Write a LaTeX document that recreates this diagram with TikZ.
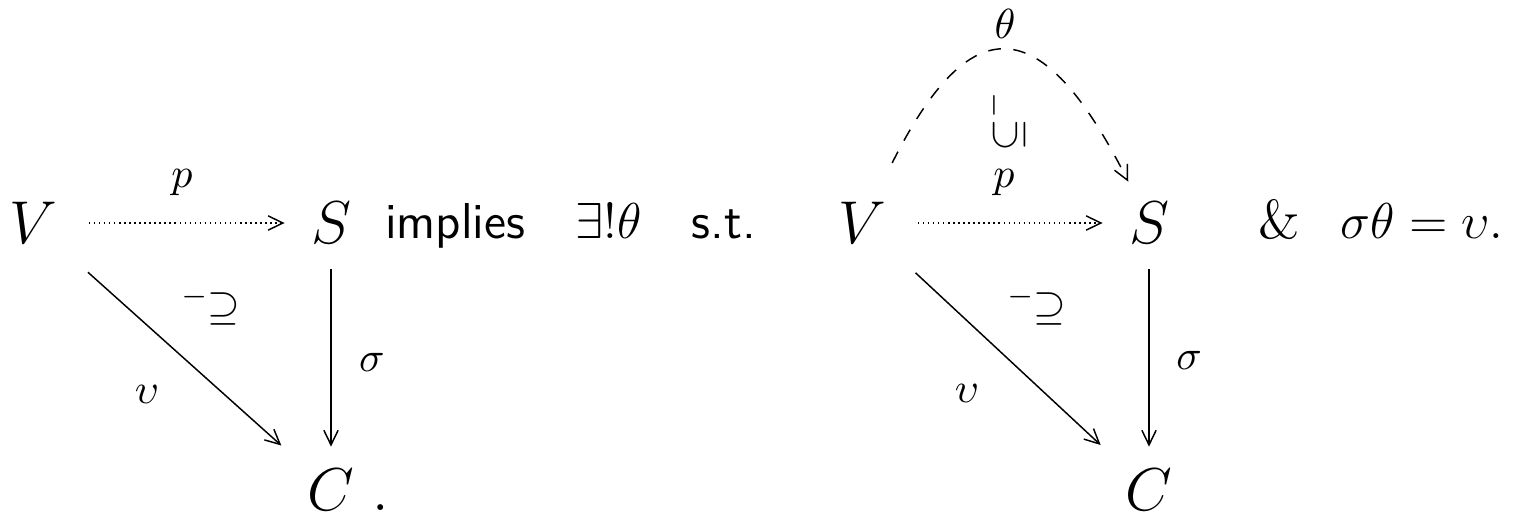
\documentclass[tikz,border=0pt]{standalone}
\usetikzlibrary{arrows.meta}
\begin{document}
\begin{tikzpicture}[x=0.238pt,y=-0.238pt,
  obj/.style={inner sep=0pt,font=\Large},
  lbl/.style={inner sep=0pt},
  ar/.style={-{Straight Barb[length=3.5pt,width=3.4pt]},line width=0.35pt},
  dotar/.style={ar,dash pattern=on 0.35pt off 0.85pt},
  dashar/.style={ar,dash pattern=on 3pt off 3pt},
  hor/.style={shorten <=7.4pt,shorten >=6.1pt},
  ver/.style={shorten <=5.8pt,shorten >=5.2pt},
  dia/.style={shorten <=9.9pt,shorten >=8.2pt},
  txt/.style={inner sep=0pt,font=\large\sffamily},
  eqt/.style={inner sep=0pt,anchor=base west,font=\fontsize{13}{15}\selectfont}]
\useasboundingbox (0,0) rectangle (1530,517);
% left diagram
\node[obj] (V) at (33,223) {$V$};
\node[obj] (S) at (331,223) {$S$};
\node[obj] (C) at (331,490) {$C$};
\node[obj,anchor=base west,xshift=4pt] (Cdot) at (C.base east) {.};
\draw[dotar,hor] (V) -- (S);
\draw[ar,ver] (S) -- (C);
\draw[ar,dia] (V) -- (C);
\node[lbl] (p) at (182,183) {$p$};
\node[lbl] (sig) at (372,362) {$\sigma$};
\node[lbl] (ups) at (147,394) {$\upsilon$};
\node[lbl] (sup) at (211,306) {$^{-}\!\!\supseteq$};
% text
\node[txt,anchor=base east] (impl) at (757,238) {implies\quad$\exists!\theta$\quad s.t.};
% right diagram
\node[obj] (V2) at (862,223) {$V$};
\node[obj] (S2) at (1149,223) {$S$};
\node[obj] (C2) at (1149,490) {$C$};
\draw[dotar,hor] (V2) -- (S2);
\draw[ar,ver] (S2) -- (C2);
\draw[ar,dia] (V2) -- (C2);
\draw[dashar,shorten <=16pt,shorten >=11pt] (V2.center) .. controls (970,8) and (1041,8) .. (S2.center);
\node[lbl] (p2) at (1004,183) {$p$};
\node[lbl] (sig2) at (1189,360) {$\sigma$};
\node[lbl] (ups2) at (967,393) {$\upsilon$};
\node[lbl] (sup2) at (1037,306) {$^{-}\!\!\supseteq$};
\node[lbl] (th) at (1005,24) {$\theta$};
\node[lbl,rotate=90] (rm) at (994,105) {$\scriptstyle -$};
\node[lbl,rotate=90] (rs) at (1009,135) {$\subseteq$};
% final text
\node[eqt] (amp) at (1258,238) {\&};
\node[eqt] (eq) at (1340,238) {$\sigma\theta=\upsilon.$};
\end{tikzpicture}
\end{document}
